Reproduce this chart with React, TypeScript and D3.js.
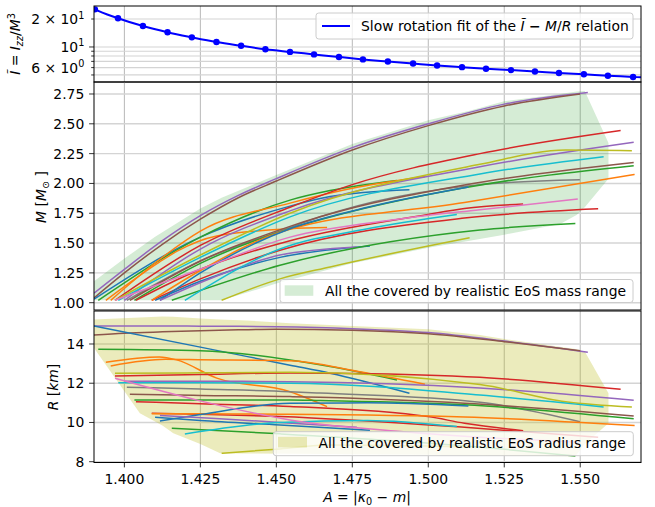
import React from 'react';
import * as d3 from 'd3';

// top panel: slow rotation fit, I~ vs A
const fitA = [1.3903, 1.3979, 1.4061, 1.4142, 1.4222, 1.4303, 1.4384, 1.4464, 1.4545, 1.4624, 1.4706, 1.4785,
  1.4867, 1.495, 1.5029, 1.5111, 1.519, 1.5272, 1.5351, 1.543, 1.5512, 1.5591, 1.5674];
const fitI = [25.4, 20.4, 16.8, 14.4, 12.7, 11.3, 10.3, 9.45, 8.85, 8.32, 7.8, 7.35,
  6.98, 6.64, 6.33, 6.07, 5.84, 5.64, 5.45, 5.25, 5.08, 4.91, 4.76];
const fitEndA = [1.39, 1.57];
const fitEndI = [25.7, 4.71];

// one entry per EoS: tab10 colour index, A samples, mass and radius at those samples
const eosColor = [4, 5, 0, 2, 1, 1, 3, 4, 8, 9, 7, 5, 2, 3, 3, 1, 0, 0, 4, 2, 9, 8, 6];
const eosA = [
  [1.39, 1.40, 1.4125, 1.425, 1.4375, 1.45, 1.475, 1.50, 1.525, 1.5525],
  [1.39, 1.40, 1.4125, 1.425, 1.4375, 1.45, 1.475, 1.50, 1.525, 1.55],
  [1.39, 1.425, 1.4545, 1.4677, 1.4938],
  [1.3914, 1.425, 1.4545, 1.4677, 1.4897],
  [1.3939, 1.4115, 1.4172, 1.4304, 1.4545, 1.4667],
  [1.3955, 1.4135, 1.425, 1.4545, 1.477, 1.4989],
  [1.3969, 1.425, 1.4545, 1.475, 1.517, 1.5633],
  [1.40, 1.425, 1.4545, 1.517, 1.5676],
  [1.3969, 1.425, 1.4545, 1.517, 1.5452, 1.567],
  [1.398, 1.425, 1.4545, 1.517, 1.5577],
  [1.4008, 1.425, 1.4545, 1.4644, 1.517, 1.5499],
  [1.4018, 1.425, 1.4545, 1.4644, 1.5119, 1.5676],
  [1.4033, 1.425, 1.4545, 1.4644, 1.5119, 1.5676],
  [1.4038, 1.425, 1.4545, 1.4999, 1.5119, 1.5312],
  [1.409, 1.425, 1.4512, 1.5119, 1.5559],
  [1.409, 1.425, 1.4512, 1.5119, 1.5679],
  [1.4117, 1.425, 1.4545, 1.48, 1.5132],
  [1.4101, 1.425, 1.4512, 1.4808],
  [1.4117, 1.43, 1.4512, 1.4765],
  [1.4156, 1.4512, 1.517, 1.5484],
  [1.4199, 1.4512, 1.48, 1.5094],
  [1.432, 1.4512, 1.4677, 1.5136],
  [1.3969, 1.4249, 1.4545, 1.49, 1.517, 1.5492],
];
const eosM = [
  [1.08, 1.28, 1.52, 1.73, 1.90, 2.04, 2.30, 2.50, 2.665, 2.762],
  [1.04, 1.25, 1.49, 1.70, 1.88, 2.02, 2.28, 2.485, 2.65, 2.75],
  [1.03, 1.55, 1.81, 1.89, 1.947],
  [1.02, 1.55, 1.86, 1.94, 2.025],
  [1.02, 1.34, 1.43, 1.56, 1.62, 1.63],
  [1.02, 1.40, 1.60, 1.835, 1.97, 2.059],
  [1.02, 1.48, 1.80, 1.99, 2.25, 2.443],
  [1.02, 1.45, 1.77, 2.14, 2.345],
  [1.02, 1.40, 1.75, 2.16, 2.28, 2.275],
  [1.02, 1.38, 1.72, 2.08, 2.224],
  [1.02, 1.35, 1.63, 1.72, 1.99, 2.03],
  [1.02, 1.35, 1.64, 1.72, 1.987, 2.176],
  [1.02, 1.33, 1.62, 1.695, 1.964, 2.149],
  [1.02, 1.28, 1.52, 1.74, 1.79, 1.827],
  [1.02, 1.20, 1.44, 1.71, 1.787],
  [1.02, 1.27, 1.59, 1.84, 2.076],
  [1.02, 1.25, 1.62, 1.80, 1.97],
  [1.02, 1.18, 1.38, 1.476],
  [1.02, 1.22, 1.40, 1.468],
  [1.02, 1.314, 1.61, 1.664],
  [1.02, 1.45, 1.62, 1.74],
  [1.02, 1.20, 1.30, 1.544],
  [1.02, 1.28, 1.55, 1.70, 1.78, 1.869],
];
const eosR = [
  [14.92, 14.92, 14.92, 14.91, 14.9, 14.88, 14.78, 14.58, 14.15, 13.58],
  [14.46, 14.55, 14.62, 14.68, 14.72, 14.75, 14.7, 14.52, 14.12, 13.65],
  [14.92, 13.84, 12.92, 12.51, 11.49],
  [13.73, 13.66, 13.19, 12.85, 12.17],
  [13.07, 13.34, 13.19, 12.26, 11.57, 10.81],
  [12.88, 13.22, 13.2, 13.15, 12.6, 11.95],
  [12.37, 12.45, 12.52, 12.5, 12.3, 11.69],
  [12.1, 12.1, 12.08, 11.76, 11.13],
  [12.51, 12.53, 12.56, 11.93, 11.06, 10.79],
  [12.03, 12.02, 12.0, 11.4, 10.79],
  [11.8, 11.7, 11.57, 11.5, 11.03, 10.04],
  [11.44, 11.38, 11.32, 11.28, 10.98, 10.33],
  [11.15, 11.15, 11.15, 11.12, 10.9, 10.19],
  [11.06, 10.95, 10.82, 10.3, 9.96, 9.58],
  [10.47, 10.42, 10.3, 9.75, 9.25],
  [10.45, 10.44, 10.42, 10.28, 9.84],
  [10.08, 10.4, 10.98, 11.0, 10.84],
  [10.27, 10.1, 9.87, 9.6],
  [10.35, 10.2, 10.0, 9.75],
  [9.7, 9.42, 8.75, 8.29],
  [9.41, 10.0, 10.1, 9.79],
  [8.43, 8.65, 8.85, 8.75],
  [12.25, 11.1, 10.13, 9.55, 9.25, 9.0],
];

// covered ranges
const massFillA = [1.39, 1.40, 1.41, 1.425, 1.432, 1.45, 1.475, 1.50, 1.5136, 1.525, 1.5434, 1.5488, 1.5515, 1.5593];
const massFillHi = [1.18, 1.37, 1.55, 1.79, 1.88, 2.07, 2.33, 2.53, 2.61, 2.69, 2.75, 2.77, 2.775, 2.34];
const massFillLo = [1.02, 1.02, 1.02, 1.02, 1.02, 1.16, 1.33, 1.46, 1.52, 1.57, 1.66, 1.735, 1.80, 2.04];
const radFillA = [1.39, 1.4051, 1.4125, 1.4161, 1.425, 1.4315, 1.44, 1.4545, 1.475, 1.50, 1.517, 1.525, 1.5484, 1.5515, 1.5593];
const radFillHi = [15.25, 15.35, 15.4, 15.39, 15.3, 15.25, 15.2, 15.06, 14.92, 14.75, 14.46, 14.25, 13.75, 13.62, 11.49];
const radFillLo = [13.8, 10.47, 9.85, 9.45, 8.9, 8.43, 8.42, 8.4, 8.38, 8.35, 8.32, 8.3, 8.28, 8.9, 9.96];

const xTicks = [1.4, 1.425, 1.45, 1.475, 1.5, 1.525, 1.55];
const mTicks = [1.0, 1.25, 1.5, 1.75, 2.0, 2.25, 2.5, 2.75];
const rTicks = [8, 10, 12, 14];
const iMinor = [5, 7, 8, 9];
const iLabelled = [6, 10, 20];

const W = 655, H = 507;
const X0 = 94, X1 = 641;
const TOP = [6, 82], MID = [82, 310], BOT = [311, 462.5];
const FONT = 'DejaVu Sans';
const FS = 13.9;

const x = d3.scaleLinear().domain([1.39, 1.57]).range([X0, X1]);
const yI = d3.scaleLog().domain([4.2, 27.6]).range([TOP[1], TOP[0]]);
const yM = d3.scaleLinear().domain([0.9388, 2.8506]).range([MID[1], MID[0]]);
const yR = d3.scaleLinear().domain([7.959, 15.682]).range([BOT[1], BOT[0]]);

const tab = d3.schemeCategory10;

function Frame({y0, y1}) {
  return <rect x={X0} y={y0} width={X1 - X0} height={y1 - y0} fill="none" stroke="#000" strokeWidth={1} />;
}

function VGrid({y0, y1}) {
  return <g>{xTicks.map(t => <line key={t} x1={x(t)} x2={x(t)} y1={y0} y2={y1} stroke="#b0b0b0" strokeWidth={0.9} />)}</g>;
}

function YTicks({ticks, scale, fmt}) {
  return <g>
    {ticks.map(t => <g key={t}>
      <line x1={X0} x2={X1} y1={scale(t)} y2={scale(t)} stroke="#d4d4d4" strokeWidth={1.4} />
      <line x1={X0 - 4.9} x2={X0} y1={scale(t)} y2={scale(t)} stroke="#000" strokeWidth={0.8} />
      <text x={X0 - 9.7} y={scale(t)} dy="0.36em" textAnchor="end" fontSize={FS} fontFamily={FONT}>{fmt(t)}</text>
    </g>)}
  </g>;
}

function Legend({bx, by, bw, bh, children}) {
  return <g>
    <rect x={bx} y={by} width={bw} height={bh} rx={2.8} fill="#fff" fillOpacity={0.8} stroke="#cccccc" strokeWidth={1} />
    {children}
  </g>;
}

export default function App() {
  const massLine = d3.line<number[]>().x(d => x(d[0])).y(d => yM(d[1])).curve(d3.curveMonotoneX);
  const radLine = d3.line<number[]>().x(d => x(d[0])).y(d => yR(d[1])).curve(d3.curveMonotoneX);
  const fitLine = d3.line<number[]>().x(d => x(d[0])).y(d => yI(d[1])).curve(d3.curveMonotoneX);

  const fitPts = [[fitEndA[0], fitEndI[0]], ...fitA.map((a, i) => [a, fitI[i]]), [fitEndA[1], fitEndI[1]]];

  const massArea = d3.area<number>()
    .x((_, i) => x(massFillA[i])).y0((_, i) => yM(massFillLo[i])).y1((_, i) => yM(massFillHi[i]));
  const radArea = d3.area<number>()
    .x((_, i) => x(radFillA[i])).y0((_, i) => yR(radFillLo[i])).y1((_, i) => yR(radFillHi[i]));

  const sup = (s) => <tspan dy={-5.5} fontSize={9.7}>{s}</tspan>;

  return (
    <svg width={W} height={H} style={{position: 'absolute', left: 0, top: 0, background: '#fff'}}
      fontFamily={FONT}>
      <defs>
        <clipPath id="cTop"><rect x={X0} y={TOP[0]} width={X1 - X0} height={TOP[1] - TOP[0]} /></clipPath>
        <clipPath id="cMid"><rect x={X0} y={MID[0]} width={X1 - X0} height={MID[1] - MID[0]} /></clipPath>
        <clipPath id="cBot"><rect x={X0} y={BOT[0]} width={X1 - X0} height={BOT[1] - BOT[0]} /></clipPath>
      </defs>
      <rect width={W} height={H} fill="#fff" />

      {/* top panel */}
      <VGrid y0={TOP[0]} y1={TOP[1]} />
      {[...iMinor, ...iLabelled].map(t => <g key={'ig' + t}>
        <line x1={X0} x2={X1} y1={yI(t)} y2={yI(t)} stroke="#d4d4d4" strokeWidth={1.2} />
        <line x1={X0 - (t === 10 ? 4.9 : 2.8)} x2={X0} y1={yI(t)} y2={yI(t)} stroke="#000" strokeWidth={0.8} />
      </g>)}
      <g clipPath="url(#cTop)">
        <path d={fitLine(fitPts)} fill="none" stroke="#0000ff" strokeWidth={2} />
        {fitA.map((a, i) => <circle key={i} cx={x(a)} cy={yI(fitI[i])} r={3.2} fill="#0000ff" />)}
      </g>
      <text x={X0 - 9.7} y={yI(20)} dy="0.36em" textAnchor="end" fontSize={FS}>2 × 10{sup('1')}</text>
      <text x={X0 - 9.7} y={yI(10)} dy="0.36em" textAnchor="end" fontSize={FS}>10{sup('1')}</text>
      <text x={X0 - 9.7} y={yI(6)} dy="0.36em" textAnchor="end" fontSize={FS}>6 × 10{sup('0')}</text>
      <Frame y0={TOP[0]} y1={TOP[1]} />
      <Legend bx={316} by={13} bw={317} bh={26}>
        <line x1={322} x2={350} y1={26} y2={26} stroke="#0000ff" strokeWidth={2} />
        <text x={361} y={31} fontSize={FS}>Slow rotation fit of the <tspan fontStyle="italic">I&#x0303;</tspan> <tspan fontWeight="bold">−</tspan> <tspan fontStyle="italic">M</tspan>/<tspan fontStyle="italic">R</tspan> relation</text>
      </Legend>

      {/* mass panel */}
      <VGrid y0={MID[0]} y1={MID[1]} />
      <YTicks ticks={mTicks} scale={yM} fmt={t => t.toFixed(2)} />
      <g clipPath="url(#cMid)">
        <path d={massArea(massFillA)} fill="#2ca02c" fillOpacity={0.2} />
        {eosA.map((as, k) => <path key={k} d={massLine(as.map((a, i) => [a, eosM[k][i]]))}
          fill="none" stroke={tab[eosColor[k]]} strokeWidth={1.5} />)}
      </g>
      <Frame y0={MID[0]} y1={MID[1]} />
      <Legend bx={280} by={279.5} bw={353} bh={23}>
        <rect x={284.7} y={285.3} width={28.6} height={10.5} fill="#2ca02c" fillOpacity={0.2} />
        <text x={325} y={295.5} fontSize={FS}>All the covered by realistic EoS mass range</text>
      </Legend>

      {/* radius panel */}
      <VGrid y0={BOT[0]} y1={BOT[1]} />
      <YTicks ticks={rTicks} scale={yR} fmt={t => String(t)} />
      <g clipPath="url(#cBot)">
        <path d={radArea(radFillA)} fill="#bcbd22" fillOpacity={0.3} />
        {eosA.map((as, k) => <path key={k} d={radLine(as.map((a, i) => [a, eosR[k][i]]))}
          fill="none" stroke={tab[eosColor[k]]} strokeWidth={1.5} />)}
      </g>
      <Frame y0={BOT[0]} y1={BOT[1]} />
      <Legend bx={273.3} by={431.7} bw={360} bh={24}>
        <rect x={278} y={436.8} width={29} height={10.6} fill="#bcbd22" fillOpacity={0.3} />
        <text x={318.5} y={448} fontSize={FS}>All the covered by realistic EoS radius range</text>
      </Legend>

      {/* x axis */}
      {xTicks.map(t => <g key={'xt' + t}>
        <line x1={x(t)} x2={x(t)} y1={BOT[1]} y2={BOT[1] + 4.9} stroke="#000" strokeWidth={0.8} />
        <text x={x(t)} y={484} textAnchor="middle" fontSize={FS}>{t.toFixed(3)}</text>
      </g>)}
      <text x={367} y={502} textAnchor="middle" fontSize={FS}>
        <tspan fontStyle="italic">A</tspan> = |<tspan fontStyle="italic">κ</tspan><tspan dy={3} fontSize={9.7}>0</tspan><tspan dy={-3}> − </tspan><tspan fontStyle="italic">m</tspan>|
      </text>

      {/* y labels */}
      <text transform="translate(20,44) rotate(-90)" textAnchor="middle" fontSize={FS}>
        <tspan fontStyle="italic">I&#x0303;</tspan> = <tspan fontStyle="italic">I</tspan><tspan dy={3} fontSize={9.7} fontStyle="italic">zz</tspan><tspan dy={-3}>/</tspan><tspan fontStyle="italic">M</tspan><tspan dy={-5.5} fontSize={9.7}>3</tspan>
      </text>
      <text transform="translate(46,197) rotate(-90)" textAnchor="middle" fontSize={FS}>
        <tspan fontStyle="italic">M</tspan> [<tspan fontStyle="italic">M</tspan><tspan dy={3} fontSize={9.7}>⊙</tspan><tspan dy={-3}> ]</tspan>
      </text>
      <text transform="translate(58,387) rotate(-90)" textAnchor="middle" fontSize={FS}>
        <tspan fontStyle="italic">R</tspan> [<tspan fontStyle="italic">km</tspan>]
      </text>
    </svg>
  );
}
